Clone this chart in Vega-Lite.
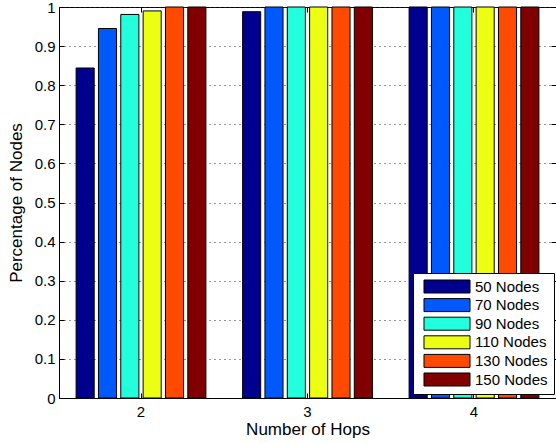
{
  "$schema": "https://vega.github.io/schema/vega-lite/v6.json",
  "width": 497,
  "height": 391,
  "autosize": {"type": "none"},
  "padding": {"left": 59, "top": 7, "right": 0, "bottom": 46},
  "background": "white",
  "config": {
    "font": "Liberation Sans",
    "view": {"stroke": "black", "strokeWidth": 1},
    "axis": {
      "domainColor": "black",
      "domainWidth": 1,
      "tickColor": "black",
      "tickWidth": 1,
      "tickSize": -5,
      "labelColor": "black",
      "titleColor": "black",
      "labelFontSize": 15,
      "titleFontSize": 17,
      "titleFontWeight": "normal"
    },
    "legend": {
      "orient": "none",
      "legendX": 354,
      "legendY": 266,
      "fillColor": "white",
      "strokeColor": "black",
      "padding": 6,
      "symbolType": "M-3.54,-1H3.54V1H-3.54Z",
      "symbolSize": 169,
      "symbolOffset": 20.5,
      "symbolStrokeColor": "black",
      "symbolStrokeWidth": 1,
      "symbolOpacity": 1,
      "labelOffset": 20.5,
      "labelFontSize": 15,
      "labelColor": "black",
      "rowPadding": 1.6,
      "labelLimit": 200
    }
  },
  "data": {
    "values": [
      {"hops": "2", "nodes": "50 Nodes", "pct": 0.844},
      {"hops": "2", "nodes": "70 Nodes", "pct": 0.945},
      {"hops": "2", "nodes": "90 Nodes", "pct": 0.981},
      {"hops": "2", "nodes": "110 Nodes", "pct": 0.99},
      {"hops": "2", "nodes": "130 Nodes", "pct": 1.0},
      {"hops": "2", "nodes": "150 Nodes", "pct": 1.0},
      {"hops": "3", "nodes": "50 Nodes", "pct": 0.988},
      {"hops": "3", "nodes": "70 Nodes", "pct": 1.0},
      {"hops": "3", "nodes": "90 Nodes", "pct": 1.0},
      {"hops": "3", "nodes": "110 Nodes", "pct": 1.0},
      {"hops": "3", "nodes": "130 Nodes", "pct": 1.0},
      {"hops": "3", "nodes": "150 Nodes", "pct": 1.0},
      {"hops": "4", "nodes": "50 Nodes", "pct": 1.0},
      {"hops": "4", "nodes": "70 Nodes", "pct": 1.0},
      {"hops": "4", "nodes": "90 Nodes", "pct": 1.0},
      {"hops": "4", "nodes": "110 Nodes", "pct": 1.0},
      {"hops": "4", "nodes": "130 Nodes", "pct": 1.0},
      {"hops": "4", "nodes": "150 Nodes", "pct": 1.0}
    ]
  },
  "layer": [
    {
      "mark": {"type": "bar", "stroke": "black", "strokeWidth": 1},
      "encoding": {
        "x": {
          "field": "hops",
          "type": "ordinal",
          "scale": {"paddingInner": 0.195, "paddingOuter": 0.09},
          "axis": {"title": "Number of Hops", "labelAngle": 0, "labelPadding": 11, "titlePadding": 2, "grid": false}
        },
        "xOffset": {
          "field": "nodes",
          "type": "nominal",
          "sort": ["50 Nodes", "70 Nodes", "90 Nodes", "110 Nodes", "130 Nodes", "150 Nodes"],
          "scale": {"paddingInner": 0.19, "paddingOuter": 0.095}
        },
        "y": {
          "field": "pct",
          "type": "quantitative",
          "scale": {"domain": [0, 1], "nice": false},
          "axis": {
            "title": "Percentage of Nodes",
            "values": [0, 0.1, 0.2, 0.3, 0.4, 0.5, 0.6, 0.7, 0.8, 0.9, 1],
            "format": "~g",
            "labelPadding": 9,
            "titlePadding": 8.5,
            "grid": true,
            "gridDash": [1, 4],
            "gridColor": "#333333",
            "gridWidth": 1
          }
        },
        "color": {
          "field": "nodes",
          "type": "nominal",
          "scale": {
            "domain": ["50 Nodes", "70 Nodes", "90 Nodes", "110 Nodes", "130 Nodes", "150 Nodes"],
            "range": ["#00008F", "#0059FF", "#23FFDC", "#ECFF13", "#FF4A00", "#800000"]
          },
          "legend": {"title": null}
        }
      }
    },
    {
      "mark": {"type": "bar", "opacity": 0},
      "encoding": {
        "x": {
          "field": "hops",
          "type": "ordinal",
          "axis": {"orient": "top", "title": null, "labels": false, "domain": false, "grid": false}
        },
        "xOffset": {
          "field": "nodes",
          "type": "nominal",
          "sort": ["50 Nodes", "70 Nodes", "90 Nodes", "110 Nodes", "130 Nodes", "150 Nodes"]
        },
        "y": {
          "field": "pct",
          "type": "quantitative",
          "axis": {
            "orient": "right",
            "title": null,
            "labels": false,
            "domain": false,
            "grid": false,
            "values": [0, 0.1, 0.2, 0.3, 0.4, 0.5, 0.6, 0.7, 0.8, 0.9, 1]
          }
        }
      }
    }
  ],
  "resolve": {"axis": {"x": "independent", "y": "independent"}}
}
